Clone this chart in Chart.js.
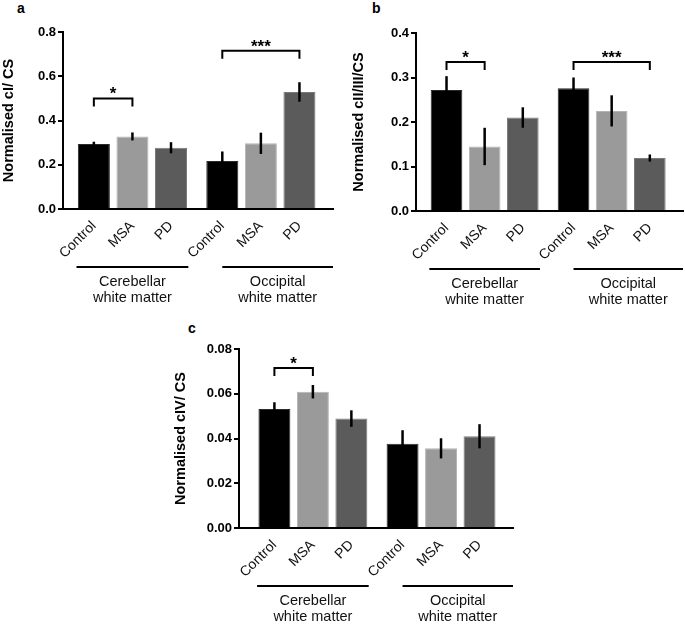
<!DOCTYPE html>
<html lang="en">
<head>
  <meta charset="UTF-8">
  <title>Normalised complex activity</title>
  <script src="https://cdn.jsdelivr.net/npm/chart.js"></script>
  <style>
    body { margin: 0; background: #fff; width: 685px; height: 625px; position: relative; overflow: hidden; }
    canvas { position: absolute; }
    .tag { position: absolute; font: bold 14px "Liberation Sans", Arial, sans-serif; color: #000; }
  </style>
</head>
<body>
  <div class="tag" style="left:17px; top:0px;">a</div>
  <div class="tag" style="left:372px; top:0px;">b</div>
  <div class="tag" style="left:188px; top:320px;">c</div>
  <canvas id="chartA" width="340" height="310" style="left:0; top:0;"></canvas>
  <canvas id="chartB" width="345" height="310" style="left:340px; top:0;"></canvas>
  <canvas id="chartC" width="350" height="315" style="left:170px; top:310px;"></canvas>

  <script>
    // --- data ---
    const categories = ['Control', 'MSA', 'PD', 'Control', 'MSA', 'PD'];
    const groupLabels = [['Cerebellar', 'white matter'], ['Occipital', 'white matter']];

    const cIValues = [0.294, 0.328, 0.277, 0.217, 0.297, 0.529];
    const cIErrors = [0.010, 0.018, 0.025, 0.043, 0.048, 0.044];
    const cIBrackets = [[0, 1, 0.50, '*'], [3, 5, 0.715, '***']];

    const cIIIIIValues = [0.272, 0.145, 0.210, 0.276, 0.225, 0.119];
    const cIIIIIErrors = [0.031, 0.042, 0.023, 0.024, 0.035, 0.008];
    const cIIIIIBrackets = [[0, 1, 0.335, '*'], [3, 5, 0.335, '***']];

    const cIVValues = [0.0532, 0.0609, 0.0489, 0.0377, 0.0356, 0.0410];
    const cIVErrors = [0.0030, 0.0030, 0.0037, 0.0060, 0.0045, 0.0054];
    const cIVBrackets = [[0, 1, 0.0715, '*']];

    // bar slots on the x axis (second group set a bit further apart)
    const xSlots = [0, 1, 2, 3.33, 4.33, 5.33];
    const barColors = ['#000000', '#9a9a9a', '#5b5b5b', '#000000', '#9a9a9a', '#5b5b5b'];
    const barEdges = ['#2a2a2a', '#b4b4b4', '#7a7a7a', '#2a2a2a', '#b4b4b4', '#7a7a7a'];
    const FONT = '"Liberation Sans", Arial, sans-serif';

    // error bars, significance brackets and group labels under the axis
    const extrasPlugin = {
      id: 'extras',
      afterDatasetsDraw(chart, args, opts) {
        const { ctx, scales: { x, y } } = chart;
        ctx.save();
        ctx.strokeStyle = '#000';
        ctx.lineWidth = 2.5;
        opts.values.forEach((v, i) => {
          const px = x.getPixelForValue(xSlots[i]);
          ctx.beginPath();
          ctx.moveTo(px, y.getPixelForValue(v - opts.errors[i]));
          ctx.lineTo(px, y.getPixelForValue(v + opts.errors[i]));
          ctx.stroke();
        });

        ctx.lineWidth = 2;
        ctx.fillStyle = '#000';
        ctx.font = 'bold 17px ' + FONT;
        ctx.textAlign = 'center';
        ctx.textBaseline = 'alphabetic';
        opts.brackets.forEach(([a, b, level, label]) => {
          const x1 = x.getPixelForValue(xSlots[a]);
          const x2 = x.getPixelForValue(xSlots[b]);
          const py = y.getPixelForValue(level);
          ctx.beginPath();
          ctx.moveTo(x1, py + 8);
          ctx.lineTo(x1, py);
          ctx.lineTo(x2, py);
          ctx.lineTo(x2, py + 8);
          ctx.stroke();
          ctx.fillText(label, (x1 + x2) / 2, py + 1);
        });
        ctx.restore();
      },
      afterDraw(chart) {
        const { ctx, chartArea, scales: { x } } = chart;
        const spans = [
          [xSlots[0] - 0.45, xSlots[2] + 0.45],
          [xSlots[3], x.max]
        ];
        const lineY = chartArea.bottom + 58;
        ctx.save();
        ctx.strokeStyle = '#000';
        ctx.lineWidth = 2;
        ctx.fillStyle = '#111';
        ctx.font = '14.5px ' + FONT;
        ctx.textAlign = 'center';
        ctx.textBaseline = 'middle';
        spans.forEach(([s, e], g) => {
          const x1 = x.getPixelForValue(s);
          const x2 = x.getPixelForValue(e);
          ctx.beginPath();
          ctx.moveTo(x1, lineY);
          ctx.lineTo(x2, lineY);
          ctx.stroke();
          groupLabels[g].forEach((t, k) => {
            ctx.fillText(t, (x1 + x2) / 2, lineY + 15 + k * 16);
          });
        });
        ctx.restore();
      }
    };

    function makePanel(id, values, errors, brackets, yMax, yStep, decimals, title, box) {
      return new Chart(document.getElementById(id), {
        type: 'bar',
        data: {
          datasets: [{
            data: values.map((v, i) => ({ x: xSlots[i], y: v })),
            backgroundColor: barColors,
            borderColor: barEdges,
            borderWidth: 1,
            barPercentage: 0.83,
            categoryPercentage: 1
          }]
        },
        options: {
          responsive: false,
          animation: false,
          layout: { padding: { left: box.padLeft, right: box.padRight, top: box.top, bottom: 0 } },
          plugins: {
            legend: { display: false },
            tooltip: { enabled: false },
            extras: { values, errors, brackets }
          },
          scales: {
            x: {
              type: 'linear',
              min: box.xMin,
              max: box.xMax,
              offset: false,
              grid: { display: false },
              border: { display: true, color: '#000', width: 2 },
              afterBuildTicks: axis => { axis.ticks = xSlots.map(v => ({ value: v })); },
              afterFit: axis => { axis.height = box.xHeight; },
              ticks: {
                autoSkip: false,
                minRotation: 45,
                maxRotation: 45,
                padding: 1,
                color: '#111',
                font: { family: FONT, size: 14 },
                callback: (v, i) => categories[i]
              }
            },
            y: {
              min: 0,
              max: yMax,
              afterFit: axis => { axis.width = box.yWidth; },
              grid: { display: true, drawOnChartArea: false, drawTicks: true, tickLength: 5, color: '#000', lineWidth: 2 },
              border: { display: true, color: '#000', width: 2 },
              ticks: {
                stepSize: yStep,
                padding: 2,
                color: '#000',
                font: { family: FONT, size: 13, weight: 'bold' },
                callback: v => v.toFixed(decimals)
              },
              title: {
                display: true,
                text: title,
                color: '#000',
                padding: 0,
                font: { family: FONT, size: 14.5, weight: 'bold' }
              }
            }
          }
        },
        plugins: [extrasPlugin]
      });
    }

    makePanel('chartA', cIValues, cIErrors, cIBrackets, 0.8, 0.2, 1, 'Normalised cI/ CS',
      { padLeft: 0, yWidth: 63, padRight: 7, top: 32, xHeight: 101, xMin: -0.8, xMax: 6.2 });
    makePanel('chartB', cIIIIIValues, cIIIIIErrors, cIIIIIBrackets, 0.4, 0.1, 1, 'Normalised cII/III/CS',
      { padLeft: 10, yWidth: 66, padRight: 2, top: 33, xHeight: 99, xMin: -0.8, xMax: 6.2 });
    makePanel('chartC', cIVValues, cIVErrors, cIVBrackets, 0.08, 0.02, 2, 'Normalised cIV/ CS',
      { padLeft: 2, yWidth: 67, padRight: 7, top: 39, xHeight: 97, xMin: -0.92, xMax: 6.2 });
  </script>
</body>
</html>
